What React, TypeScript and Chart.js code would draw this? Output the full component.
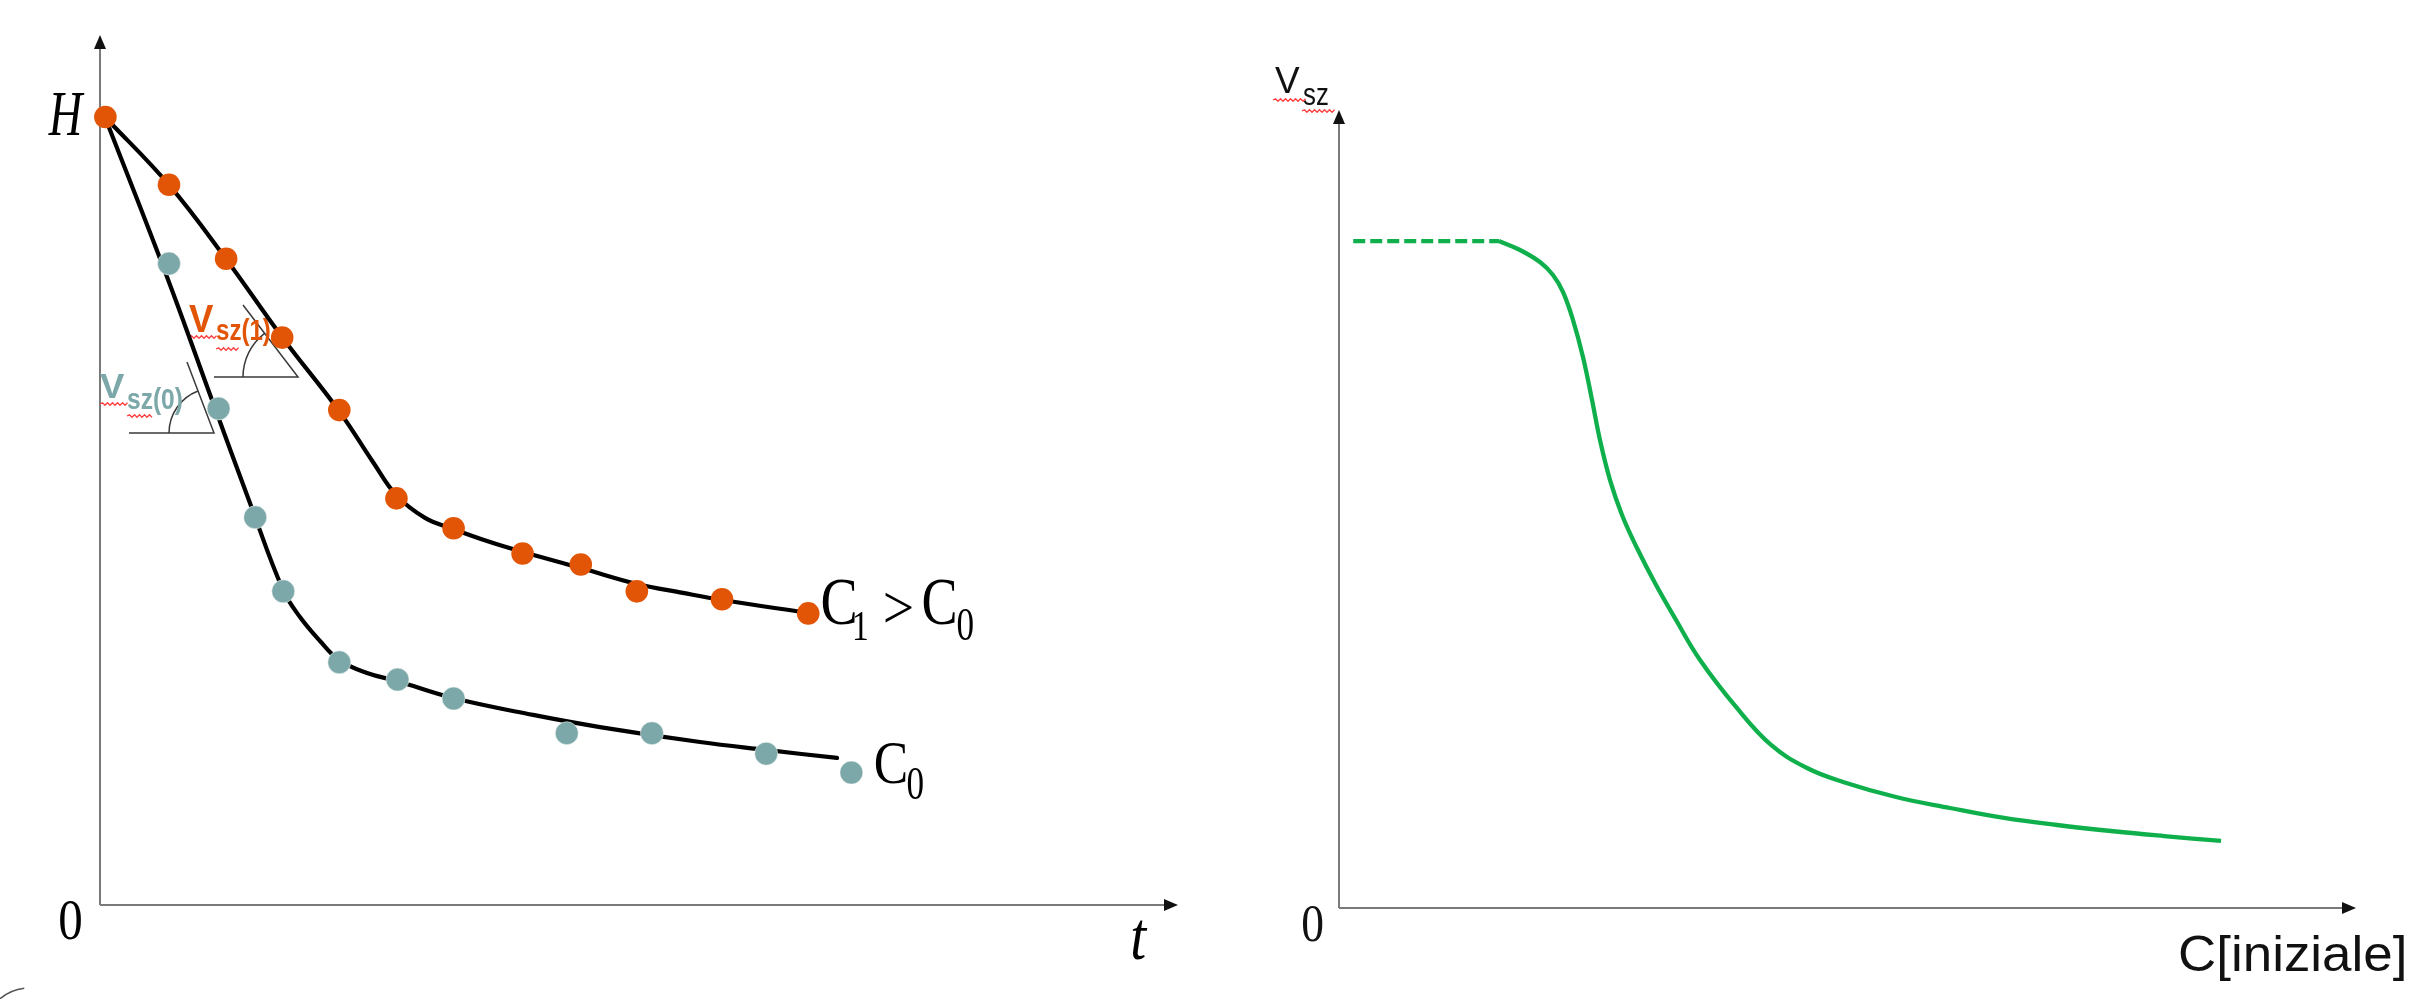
import React, { useEffect, useRef } from "react";
import { Chart, registerables } from "chart.js";

Chart.register(...registerables);

// ---------------- Data (left: settling height H vs time t) ----------------
const H_VALUE = 50;
// measured points (dots)
const C1_T = [0.5, 6.4, 11.7, 16.9, 22.2, 27.5, 32.8, 39.2, 44.6, 49.8, 57.7, 65.7];
const C1_H = [50.0, 45.7, 41.0, 36.0, 31.4, 25.8, 23.9, 22.3, 21.6, 19.9, 19.4, 18.5];
const C0_T = [6.4, 11.0, 14.4, 17.0, 22.2, 27.6, 32.8, 43.3, 51.2, 61.8, 69.7];
const C0_H = [40.7, 31.5, 24.6, 19.9, 15.4, 14.3, 13.1, 10.9, 10.9, 9.6, 8.4];
// smooth black curves drawn through the dots
const C1_FIT_T = [0.46, 6.4, 11.69, 16.88, 22.17, 25.32, 27.46, 30.15, 32.75, 36.18, 39.24, 44.62, 49.81, 54.08, 57.7, 65.68];
const C1_FIT_H = [50.0, 45.69, 40.99, 36.04, 31.35, 28.11, 26.02, 24.56, 23.86, 23.03, 22.4, 21.38, 20.37, 19.8, 19.35, 18.53];
const C0_FIT_T = [0.46, 6.22, 10.39, 13.91, 16.98, 18.55, 20.41, 22.17, 24.77, 27.55, 32.75, 40.17, 46.38, 55.66, 61.78, 68.37];
const C0_FIT_H = [50.0, 39.85, 32.04, 25.51, 19.99, 18.27, 16.75, 15.55, 14.72, 14.21, 13.13, 12.06, 11.29, 10.34, 9.84, 9.33];

// ---------------- Data (right: Vsz vs initial concentration) ----------------
const VSZ_FLAT_C = [1.4, 15.73];
const VSZ_FLAT_V = [83.58, 83.58];
const VSZ_C = [15.73, 17.8, 19.76, 21.04, 22.03, 23.01, 23.99, 24.88, 25.66, 26.65, 27.83, 29.3, 31.07, 33.14, 35.5, 39.04, 42.48, 46.02, 49.56, 54.77, 60.08, 65.39, 70.6, 75.91, 81.12, 86.73];
const VSZ_V = [83.58, 82.46, 80.95, 79.32, 77.19, 73.68, 69.05, 63.66, 58.65, 53.63, 49.25, 45.11, 40.73, 36.09, 31.08, 25.19, 20.43, 17.54, 15.79, 13.91, 12.53, 11.28, 10.4, 9.65, 9.02, 8.4];

// ---------------- Labels ----------------
const LEFT_Y_LABEL = "H";
const LEFT_X_LABEL = "t";
const ORIGIN_LABEL = "0";
const RIGHT_Y_LABEL = ["V", "sz"];
const RIGHT_X_LABEL = "C[iniziale]";
const VSZ1_LABEL = ["V", "sz(1)"];
const VSZ0_LABEL = ["V", "sz(0)"];

const ORANGE = "#E25507";
const TEAL = "#7CA8A9";
const GREEN = "#0FB04C";
const AXIS_GRAY = "#7a7a7a";
const SERIF = "'Liberation Serif', 'Times New Roman', serif";
const SANS = "'Liberation Sans', Arial, sans-serif";

const zip = (xs: number[], ys: number[]) => xs.map((x, i) => ({ x, y: ys[i] }));

// draw text so that its ink fills the given box
function fitBox(ctx: CanvasRenderingContext2D, text: string, l: number, t: number, r: number, b: number, font: string, color: string) {
  ctx.save();
  ctx.font = font;
  ctx.fillStyle = color;
  ctx.textAlign = "left";
  ctx.textBaseline = "alphabetic";
  const m = ctx.measureText(text);
  const inkW = m.actualBoundingBoxLeft + m.actualBoundingBoxRight;
  const inkH = m.actualBoundingBoxAscent + m.actualBoundingBoxDescent;
  ctx.translate(l, t);
  ctx.scale((r - l) / inkW, (b - t) / inkH);
  ctx.fillText(text, m.actualBoundingBoxLeft, m.actualBoundingBoxAscent);
  ctx.restore();
}

function squiggle(ctx: CanvasRenderingContext2D, x1: number, x2: number, y: number) {
  ctx.save();
  ctx.strokeStyle = "#FF4040";
  ctx.lineWidth = 1.3;
  ctx.beginPath();
  ctx.moveTo(x1, y);
  let up = true;
  for (let x = x1; x < x2; x += 2.5) {
    ctx.lineTo(x + 2.5, y + (up ? -1.3 : 1.3));
    up = !up;
  }
  ctx.stroke();
  ctx.restore();
}

function drawAxes(ctx: CanvasRenderingContext2D, ca: any) {
  ctx.save();
  ctx.strokeStyle = AXIS_GRAY;
  ctx.lineWidth = 2;
  ctx.beginPath();
  ctx.moveTo(ca.left, ca.bottom);
  ctx.lineTo(ca.left, ca.top + 10);
  ctx.moveTo(ca.left, ca.bottom);
  ctx.lineTo(ca.right - 10, ca.bottom);
  ctx.stroke();
  ctx.fillStyle = "#111";
  ctx.beginPath();
  ctx.moveTo(ca.left, ca.top);
  ctx.lineTo(ca.left - 6, ca.top + 14);
  ctx.lineTo(ca.left + 6, ca.top + 14);
  ctx.closePath();
  ctx.fill();
  ctx.beginPath();
  ctx.moveTo(ca.right, ca.bottom);
  ctx.lineTo(ca.right - 14, ca.bottom - 6);
  ctx.lineTo(ca.right - 14, ca.bottom + 6);
  ctx.closePath();
  ctx.fill();
  ctx.restore();
}

function angleMarker(ctx: CanvasRenderingContext2D, cx: number, cy: number, hx: number, tx: number, ty: number, r: number) {
  ctx.save();
  ctx.strokeStyle = "#3a3a3a";
  ctx.lineWidth = 1.5;
  ctx.beginPath();
  ctx.moveTo(hx, cy);
  ctx.lineTo(cx, cy);
  ctx.lineTo(tx, ty);
  ctx.stroke();
  const a = Math.atan2(ty - cy, tx - cx);
  ctx.beginPath();
  ctx.arc(cx, cy, r, Math.PI, a < 0 ? a + 2 * Math.PI : a, false);
  ctx.stroke();
  ctx.restore();
}

const leftDecor = {
  id: "leftDecor",
  beforeDatasetsDraw(chart: any) {
    const { ctx, chartArea: ca } = chart;
    drawAxes(ctx, ca);
    angleMarker(ctx, 298, 377, 214, 243, 305, 55);
    angleMarker(ctx, 214, 433, 129, 187, 362, 45);
    fitBox(ctx, VSZ1_LABEL[0], 189, 304, 214, 332, `bold 38px ${SANS}`, ORANGE);
    fitBox(ctx, VSZ1_LABEL[1], 216, 318, 270, 347, `bold 27px ${SANS}`, ORANGE);
    squiggle(ctx, 189, 215, 337);
    squiggle(ctx, 216, 238, 349);
    fitBox(ctx, VSZ0_LABEL[0], 100, 373, 125, 398, `bold 38px ${SANS}`, TEAL);
    fitBox(ctx, VSZ0_LABEL[1], 127, 387, 182, 415, `bold 27px ${SANS}`, TEAL);
    squiggle(ctx, 100, 127, 404);
    squiggle(ctx, 127, 150, 416);
    ctx.save();
    ctx.strokeStyle = "#555";
    ctx.lineWidth = 1.5;
    ctx.beginPath();
    ctx.arc(30, 1035, 47, (225 * Math.PI) / 180, (263 * Math.PI) / 180, false);
    ctx.stroke();
    ctx.restore();
  },
  afterDatasetsDraw(chart: any) {
    const { ctx, chartArea: ca, scales } = chart;
    const yH = scales.y.getPixelForValue(H_VALUE);
    fitBox(ctx, LEFT_Y_LABEL, ca.left - 52, yH - 24, ca.left - 15, yH + 18, `italic 64px ${SERIF}`, "#000");
    fitBox(ctx, ORIGIN_LABEL, ca.left - 40, ca.bottom - 5, ca.left - 19, ca.bottom + 35, `56px ${SERIF}`, "#000");
    fitBox(ctx, LEFT_X_LABEL, ca.right - 46, ca.bottom + 15, ca.right - 30, ca.bottom + 55, `italic 68px ${SERIF}`, "#000");
    const n1 = C1_T.length - 1;
    const x1 = scales.x.getPixelForValue(C1_T[n1]);
    const y1 = scales.y.getPixelForValue(C1_H[n1]);
    fitBox(ctx, "C", x1 + 14, y1 - 33, x1 + 47, y1 + 12, `66px ${SERIF}`, "#000");
    fitBox(ctx, "1", x1 + 46, y1 - 1, x1 + 59, y1 + 27, `44px ${SERIF}`, "#000");
    fitBox(ctx, ">", x1 + 77, y1 - 21, x1 + 104, y1 + 10, `66px ${SERIF}`, "#000");
    fitBox(ctx, "C", x1 + 115, y1 - 33, x1 + 147, y1 + 12, `66px ${SERIF}`, "#000");
    fitBox(ctx, "0", x1 + 149, y1 - 3, x1 + 165, y1 + 27, `44px ${SERIF}`, "#000");
    const n0 = C0_T.length - 1;
    const x0 = scales.x.getPixelForValue(C0_T[n0]);
    const y0 = scales.y.getPixelForValue(C0_H[n0]);
    fitBox(ctx, "C", x0 + 24, y0 - 30, x0 + 54, y0 + 11, `62px ${SERIF}`, "#000");
    fitBox(ctx, "0", x0 + 56, y0 - 4, x0 + 72, y0 + 26, `44px ${SERIF}`, "#000");
  },
};

const rightDecor = {
  id: "rightDecor",
  beforeDatasetsDraw(chart: any) {
    drawAxes(chart.ctx, chart.chartArea);
  },
  afterDatasetsDraw(chart: any) {
    const { ctx, chartArea: ca } = chart;
    fitBox(ctx, RIGHT_Y_LABEL[0], ca.left - 64, ca.top - 42, ca.left - 39, ca.top - 17, `34px ${SANS}`, "#111");
    fitBox(ctx, RIGHT_Y_LABEL[1], ca.left - 36, ca.top - 22, ca.left - 11, ca.top - 5, `30px ${SANS}`, "#111");
    squiggle(ctx, ca.left - 66, ca.left - 34, ca.top - 10);
    squiggle(ctx, ca.left - 37, ca.left - 6, ca.top + 1);
    fitBox(ctx, ORIGIN_LABEL, ca.left - 37, ca.bottom - 3, ca.left - 16, ca.bottom + 34, `52px ${SERIF}`, "#111");
    fitBox(ctx, RIGHT_X_LABEL, ca.right - 176, ca.bottom + 27, ca.right + 48, ca.bottom + 74, `56px ${SANS}`, "#111");
  },
};

const baseOptions = (xMax: number, yMax: number, padding: any) => ({
  responsive: false,
  animation: false as const,
  devicePixelRatio: 1,
  events: [] as any[],
  layout: { padding },
  plugins: { legend: { display: false }, tooltip: { enabled: false }, title: { display: false } },
  scales: {
    x: { type: "linear" as const, min: 0, max: xMax, display: false },
    y: { type: "linear" as const, min: 0, max: yMax, display: false },
  },
});

const curve = (label: string, xs: number[], ys: number[]) => ({
  label,
  data: zip(xs, ys),
  borderColor: "#000",
  borderWidth: 4.2,
  pointRadius: 0,
  tension: 0.4,
  borderCapStyle: "round",
  borderJoinStyle: "round",
  order: 3,
  clip: false,
});

export default function App() {
  const leftRef = useRef<HTMLCanvasElement>(null);
  const rightRef = useRef<HTMLCanvasElement>(null);

  useEffect(() => {
    const left = new Chart(leftRef.current as HTMLCanvasElement, {
      type: "line",
      data: {
        datasets: [
          curve("C0 curve", C0_FIT_T, C0_FIT_H),
          curve("C1 curve", C1_FIT_T, C1_FIT_H),
          {
            label: "C0",
            data: zip(C0_T, C0_H),
            showLine: false,
            pointRadius: 11.5,
            pointBackgroundColor: TEAL,
            pointBorderColor: "rgba(255,255,255,0.5)",
            pointBorderWidth: 1,
            order: 1,
            clip: false,
          },
          {
            label: "C1",
            data: zip(C1_T, C1_H),
            showLine: false,
            pointRadius: 11.3,
            pointBackgroundColor: ORANGE,
            pointBorderColor: ORANGE,
            pointBorderWidth: 0,
            order: 1,
            clip: false,
          },
        ],
      } as any,
      options: baseOptions(100, 55.2, { left: 100, top: 35, right: 72, bottom: 94 }) as any,
      plugins: [leftDecor],
    });

    const right = new Chart(rightRef.current as HTMLCanvasElement, {
      type: "line",
      data: {
        datasets: [
          {
            label: "Vsz plateau",
            data: zip(VSZ_FLAT_C, VSZ_FLAT_V),
            borderColor: GREEN,
            borderWidth: 4.3,
            borderDash: [12, 5],
            pointRadius: 0,
            clip: false,
          },
          {
            label: "Vsz",
            data: zip(VSZ_C, VSZ_V),
            borderColor: GREEN,
            borderWidth: 4.3,
            pointRadius: 0,
            tension: 0.4,
            borderJoinStyle: "round",
            clip: false,
          },
        ],
      } as any,
      options: baseOptions(100, 100, { left: 89, top: 110, right: 69, bottom: 91 }) as any,
      plugins: [rightDecor],
    });

    return () => {
      left.destroy();
      right.destroy();
    };
  }, []);

  return (
    <div style={{ position: "absolute", left: 0, top: 0, width: 2425, height: 999, background: "#fff", overflow: "hidden" }}>
      <canvas ref={leftRef} width={1250} height={999} style={{ position: "absolute", left: 0, top: 0, width: 1250, height: 999 }} />
      <canvas ref={rightRef} width={1175} height={999} style={{ position: "absolute", left: 1250, top: 0, width: 1175, height: 999 }} />
    </div>
  );
}
